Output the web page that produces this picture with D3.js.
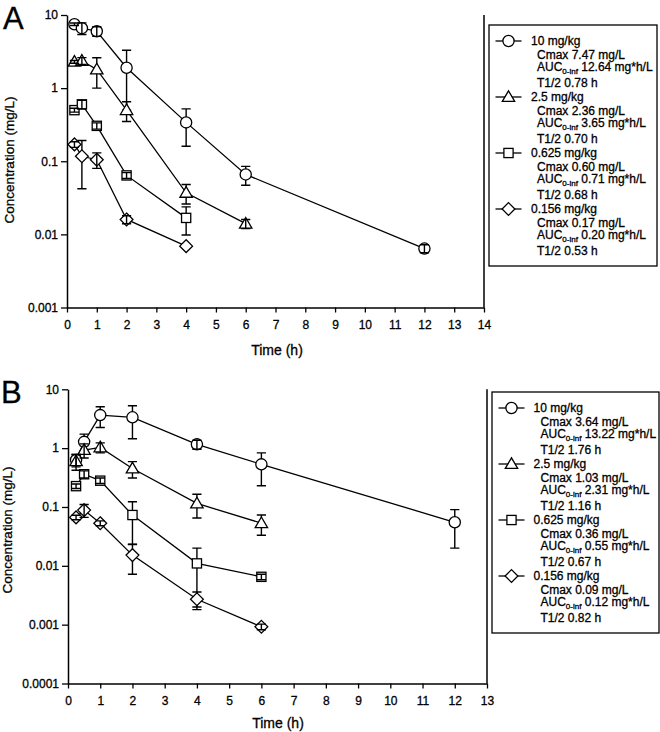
<!DOCTYPE html>
<html><head><meta charset="utf-8">
<script src="https://cdn.jsdelivr.net/npm/d3@7"></script>
<style>
html,body{margin:0;padding:0;background:#fff;}
svg text{font-family:"Liberation Sans",Arial,sans-serif;fill:#000;stroke:#000;stroke-width:0.3px;}
</style></head>
<body>
<svg id="chart" width="660" height="732"></svg>
<script>
// ---------- DATA ----------
const doseLabels = ["10 mg/kg", "2.5 mg/kg", "0.625 mg/kg", "0.156 mg/kg"];

// Panel A
const timeA_10 = [0.25, 0.5, 1, 2, 4, 6, 12];
const concA_10 = [7.47, 6.6, 6.0, 1.9, 0.34, 0.066, 0.0064];
const sdA_10   = [0.3, 1.2, 0.9, 1.4, 0.18, 0.019, 0.0008];
const timeA_25 = [0.25, 0.5, 1, 2, 4, 6];
const concA_25 = [2.29, 2.36, 1.8, 0.50, 0.037, 0.014];
const sdA_25   = [0.1, 0.25, 0.8, 0.15, 0.011, 0.002];
const timeA_0625 = [0.25, 0.5, 1, 2, 4];
const concA_0625 = [0.50, 0.60, 0.305, 0.064, 0.0168];
const sdA_0625   = [0.03, 0.08, 0.03, 0.006, 0.007];
const timeA_0156 = [0.25, 0.5, 1, 2, 4];
const concA_0156 = [0.17, 0.117, 0.105, 0.016, 0.0069];
const sdA_0156   = [0.015, 0.075, 0.025, 0.002, 0];
const cmaxA  = ["7.47", "2.36", "0.60", "0.17"];
const aucA   = ["12.64", "3.65", "0.71", "0.20"];
const thalfA = ["0.78", "0.70", "0.68", "0.53"];
const xTicksA = [0,1,2,3,4,5,6,7,8,9,10,11,12,13,14];
const yTicksA = [0.001, 0.01, 0.1, 1, 10];
const yTickLabelsA = ["0.001", "0.01", "0.1", "1", "10"];

// Panel B
const timeB_10 = [0.25, 0.5, 1, 2, 4, 6, 12];
const concB_10 = [0.63, 1.28, 3.64, 3.34, 1.16, 0.53, 0.055];
const sdB_10   = [0.15, 0.45, 1.4, 1.9, 0.2, 0.3, 0.035];
const timeB_25 = [0.25, 0.5, 1, 2, 4, 6];
const concB_25 = [0.6, 0.93, 1.03, 0.45, 0.115, 0.053];
const sdB_25   = [0.18, 0.25, 0.2, 0.14, 0.05, 0.02];
const timeB_0625 = [0.25, 0.5, 1, 2, 4, 6];
const concB_0625 = [0.226, 0.36, 0.28, 0.073, 0.011, 0.0065];
const sdB_0625   = [0.02, 0.05, 0.03, 0.05, 0.009, 0.0007];
const timeB_0156 = [0.25, 0.5, 1, 2, 4, 6];
const concB_0156 = [0.0665, 0.0885, 0.053, 0.0152, 0.0027, 0.00092];
const sdB_0156   = [0.006, 0.022, 0.005, 0.008, 0.0009, 0.0001];
const cmaxB  = ["3.64", "1.03", "0.36", "0.09"];
const aucB   = ["13.22", "2.31", "0.55", "0.12"];
const thalfB = ["1.76", "1.16", "0.67", "0.82"];
const xTicksB = [0,1,2,3,4,5,6,7,8,9,10,11,12,13];
const yTicksB = [0.0001, 0.001, 0.01, 0.1, 1, 10];
const yTickLabelsB = ["0.0001", "0.001", "0.01", "0.1", "1", "10"];

// ---------- DRAWING ----------
const svg = d3.select("#chart");
const SHAPES = ["circle", "triangle", "square", "diamond"];

function drawSymbol(g, shape, cx, cy) {
  const s = g.append("g").attr("transform", `translate(${cx},${cy})`);
  const st = el => el.attr("fill", "#fff").attr("stroke", "#000").attr("stroke-width", 1.3);
  if (shape === "circle") st(s.append("circle").attr("r", 5.6));
  else if (shape === "square") st(s.append("rect").attr("x", -4.6).attr("y", -4.6).attr("width", 9.2).attr("height", 9.2));
  else if (shape === "triangle") st(s.append("path").attr("d", "M0,-6.2L6.2,4.4L-6.2,4.4Z"));
  else st(s.append("path").attr("d", "M0,-6.4L6.4,0L0,6.4L-6.4,0Z"));
}

function drawPanel(o) {
  const g = svg.append("g");
  const x = d3.scaleLinear().domain(o.xDomain).range(o.xRange);
  const y = d3.scaleLog().domain(o.yDomain).range(o.yRange);

  // axes
  const xAxis = d3.axisBottom(x).tickValues(o.xTicks).tickFormat(d3.format("d")).tickSize(5).tickPadding(8).tickSizeOuter(0);
  const gx = g.append("g").attr("transform", `translate(0,${o.yRange[0]})`).call(xAxis);
  const yAxis = d3.axisLeft(y).tickValues(o.yTicks).tickFormat((d, i) => o.yTickLabels[i]).tickSize(6).tickPadding(3).tickSizeOuter(0);
  const gy = g.append("g").attr("transform", `translate(${o.xRange[0]},0)`).call(yAxis);
  [gx, gy].forEach(a => {
    a.selectAll("path.domain").attr("stroke", "#000").attr("stroke-width", 1.5);
    a.selectAll(".tick line").attr("stroke", "#000").attr("stroke-width", 1.3);
    a.selectAll(".tick text").attr("font-size", 12).attr("font-family", "'Liberation Sans',Arial,sans-serif");
  });
  // right frame line
  g.append("line").attr("x1", o.xRange[1]).attr("x2", o.xRange[1])
    .attr("y1", o.yRange[1]).attr("y2", o.yRange[0]).attr("stroke", "#000").attr("stroke-width", 1.5);

  // axis titles
  g.append("text").attr("x", o.xTitle[0]).attr("y", o.xTitle[1]).attr("text-anchor", "middle")
    .attr("font-size", 14).text("Time (h)");
  g.append("text").attr("transform", `translate(${o.yTitle[0]},${o.yTitle[1]}) rotate(-90)`)
    .attr("text-anchor", "middle").attr("font-size", 13.5).text("Concentration (mg/L)");
  g.append("text").attr("x", o.letterPos[0]).attr("y", o.letterPos[1]).attr("font-size", 31).text(o.letter);

  const line = d3.line().x(d => x(d.t)).y(d => y(d.c));
  o.series.forEach((s, si) => {
    const pts = s.t.map((t, i) => ({t, c: s.c[i], sd: s.sd[i]}));
    g.append("path").datum(pts).attr("d", line).attr("fill", "none").attr("stroke", "#000").attr("stroke-width", 1.3);
  });
  const errs = [];
  o.series.forEach((s, si) => {
    s.t.forEach((t, i) => {
      const sd = s.sd[i];
      if (!sd) return;
      const lo = Math.max(s.c[i] - sd, o.yDomain[0]);
      errs.push({x: x(t), y1: y(s.c[i] + sd), y2: y(lo)});
    });
  });
  function drawErr(e) {
    const c = 4.6;
    g.append("path").attr("d", `M${e.x},${e.y1}V${e.y2}M${e.x - c},${e.y1}H${e.x + c}M${e.x - c},${e.y2}H${e.x + c}`)
      .attr("stroke", "#000").attr("stroke-width", 1.4).attr("fill", "none");
  }
  errs.filter(e => e.y2 - e.y1 >= 16).forEach(drawErr);
  o.series.forEach((s, si) => {
    s.t.forEach((t, i) => drawSymbol(g, SHAPES[si], x(t), y(s.c[i])));
  });
  errs.filter(e => e.y2 - e.y1 < 16).forEach(drawErr);

  // legend
  const L = o.legend;
  g.append("rect").attr("x", L.x).attr("y", L.y).attr("width", L.w).attr("height", L.h)
    .attr("fill", "#fff").attr("stroke", "#000").attr("stroke-width", 1.3);
  doseLabels.forEach((lab, i) => {
    const cy = L.firstY + i * L.step;
    g.append("line").attr("x1", L.symX - 13).attr("x2", L.symX + 13).attr("y1", cy).attr("y2", cy)
      .attr("stroke", "#000").attr("stroke-width", 1.3);
    drawSymbol(g, SHAPES[i], L.symX, cy);
    const fs = 12, bl = 4.3;
    g.append("text").attr("x", L.textX).attr("y", cy + bl).attr("font-size", fs).text(lab);
    g.append("text").attr("x", L.subX).attr("y", cy + 13.3 + bl).attr("font-size", fs).text(`Cmax ${L.cmax[i]} mg/L`);
    const t = g.append("text").attr("x", L.subX).attr("y", cy + 26 + bl).attr("font-size", fs);
    t.append("tspan").text("AUC");
    t.append("tspan").attr("font-size", 8).attr("dy", 3).text("0-inf");
    t.append("tspan").attr("dy", -3).text(` ${L.auc[i]} mg*h/L`);
    g.append("text").attr("x", L.subX).attr("y", cy + 41.6 + bl).attr("font-size", fs).text(`T1/2 ${L.thalf[i]} h`);
  });
}

drawPanel({
  letter: "A", letterPos: [3, 29],
  xDomain: [0, 14], xRange: [67, 484],
  yDomain: [0.001, 10], yRange: [307.5, 15],
  xTicks: xTicksA, yTicks: yTicksA, yTickLabels: yTickLabelsA,
  xTitle: [277, 355], yTitle: [14, 160],
  series: [
    {t: timeA_10, c: concA_10, sd: sdA_10},
    {t: timeA_25, c: concA_25, sd: sdA_25},
    {t: timeA_0625, c: concA_0625, sd: sdA_0625},
    {t: timeA_0156, c: concA_0156, sd: sdA_0156}
  ],
  legend: {x: 489, y: 25, w: 168, h: 241, firstY: 41, step: 56, symX: 508.5, textX: 531, subX: 537,
           cmax: cmaxA, auc: aucA, thalf: thalfA}
});

drawPanel({
  letter: "B", letterPos: [1, 403],
  xDomain: [0, 13], xRange: [68, 487],
  yDomain: [0.0001, 10], yRange: [683.5, 389.3],
  xTicks: xTicksB, yTicks: yTicksB, yTickLabels: yTickLabelsB,
  xTitle: [278, 728], yTitle: [12, 530],
  series: [
    {t: timeB_10, c: concB_10, sd: sdB_10},
    {t: timeB_25, c: concB_25, sd: sdB_25},
    {t: timeB_0625, c: concB_0625, sd: sdB_0625},
    {t: timeB_0156, c: concB_0156, sd: sdB_0156}
  ],
  legend: {x: 492, y: 392, w: 167, h: 241, firstY: 408, step: 56, symX: 511.5, textX: 533.5, subX: 540.5,
           cmax: cmaxB, auc: aucB, thalf: thalfB}
});
</script>
</body></html>
